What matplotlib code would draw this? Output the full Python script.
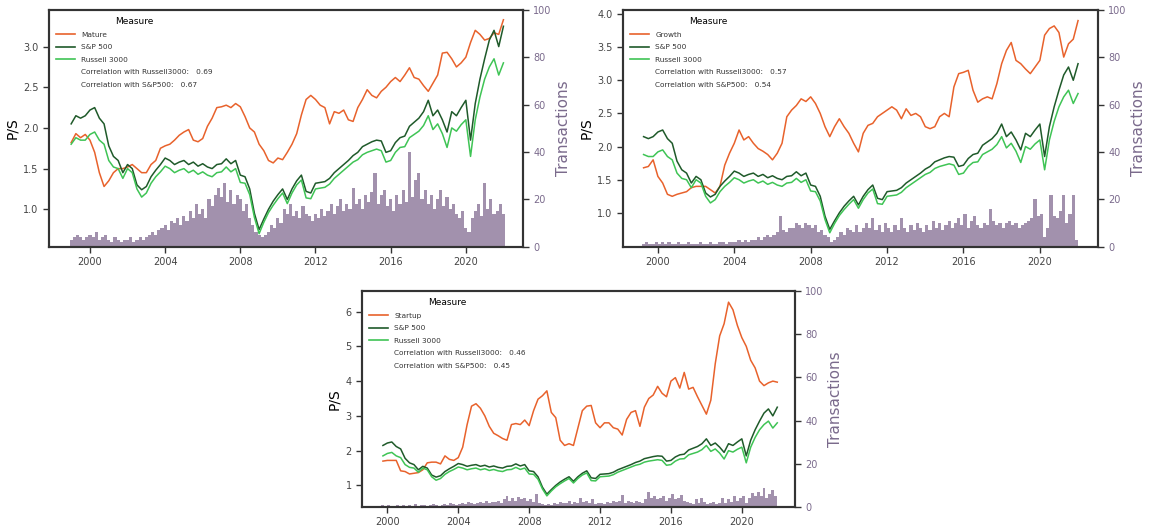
import numpy as np
import matplotlib
matplotlib.use('Agg')
import matplotlib.pyplot as plt
from matplotlib.lines import Line2D

# quarterly P/S, 1999.0 - 2022.0 (shared index series)
sp500 = [2.05, 2.15, 2.12, 2.15,
         2.22, 2.25, 2.12, 2.05,
         1.78, 1.65, 1.60, 1.45,
         1.55, 1.50, 1.30, 1.24,
         1.28, 1.40, 1.48, 1.55,
         1.63, 1.60, 1.55, 1.58,
         1.60, 1.55, 1.58, 1.53,
         1.56, 1.52, 1.50, 1.55,
         1.56, 1.62, 1.56, 1.60,
         1.42, 1.40, 1.25, 0.95,
         0.75, 0.88, 1.00, 1.10,
         1.18, 1.25, 1.12, 1.25,
         1.35, 1.42, 1.22, 1.20,
         1.32, 1.33, 1.34, 1.38,
         1.45, 1.50, 1.55, 1.60,
         1.66, 1.70, 1.77, 1.80,
         1.83, 1.85, 1.84, 1.70,
         1.72, 1.82, 1.88, 1.90,
         2.02, 2.07, 2.12, 2.20,
         2.34, 2.15, 2.22, 2.10,
         1.95, 2.20, 2.15, 2.25,
         2.34, 1.85, 2.30, 2.60,
         2.85, 3.08, 3.20, 3.00,
         3.25]
russell3000 = [1.80, 1.88, 1.85, 1.85,
               1.92, 1.95, 1.85, 1.80,
               1.60, 1.52, 1.50, 1.38,
               1.50, 1.45, 1.25, 1.15,
               1.20, 1.32, 1.40, 1.46,
               1.53, 1.50, 1.45, 1.48,
               1.50, 1.45, 1.48, 1.43,
               1.46, 1.42, 1.40, 1.45,
               1.46, 1.52, 1.46, 1.50,
               1.33, 1.32, 1.18, 0.90,
               0.70, 0.84, 0.96, 1.05,
               1.13, 1.20, 1.07, 1.20,
               1.30, 1.36, 1.14, 1.13,
               1.25, 1.26, 1.27, 1.31,
               1.38, 1.43, 1.48, 1.53,
               1.58, 1.61, 1.67, 1.70,
               1.72, 1.74, 1.72, 1.58,
               1.60, 1.70, 1.76, 1.77,
               1.88, 1.92, 1.96, 2.03,
               2.15, 1.98, 2.05, 1.93,
               1.76, 2.00, 1.96, 2.04,
               2.10, 1.65, 2.10, 2.38,
               2.60, 2.75, 2.85, 2.65,
               2.80]

# Mature, quarterly from 1999.0
mature = [1.82, 1.93, 1.88, 1.92,
          1.85, 1.70, 1.45, 1.28,
          1.35, 1.45, 1.50, 1.50,
          1.52, 1.55, 1.50, 1.45,
          1.45, 1.55, 1.60, 1.75,
          1.78, 1.80, 1.85, 1.91,
          1.95, 1.98, 1.85, 1.83,
          1.87, 2.02, 2.12, 2.25,
          2.26, 2.28, 2.25, 2.30,
          2.26, 2.14, 2.00, 1.95,
          1.80, 1.72, 1.60, 1.57,
          1.63, 1.61, 1.70, 1.80,
          1.93, 2.16, 2.35, 2.40,
          2.35, 2.28, 2.25, 2.05,
          2.20, 2.18, 2.22, 2.10,
          2.08, 2.25, 2.35, 2.47,
          2.40, 2.37, 2.45, 2.50,
          2.57, 2.62, 2.57, 2.65,
          2.74, 2.62, 2.60, 2.52,
          2.45, 2.55, 2.65, 2.92,
          2.93, 2.85, 2.75, 2.80,
          2.87, 3.05, 3.20, 3.15,
          3.08, 3.10, 3.17, 3.15,
          3.33]
# Growth, quarterly from 1999.25
growth = [1.68, 1.70, 1.80,
          1.55, 1.45, 1.28, 1.25,
          1.28, 1.30, 1.32, 1.38,
          1.40, 1.40, 1.40, 1.35,
          1.30, 1.40, 1.72, 1.90,
          2.05, 2.25, 2.10, 2.15,
          2.05, 1.97, 1.93, 1.88,
          1.80, 1.90, 2.05, 2.45,
          2.55, 2.62, 2.72, 2.68,
          2.75, 2.65, 2.50, 2.30,
          2.15, 2.30, 2.42, 2.30,
          2.20, 2.05, 1.92, 2.20,
          2.32, 2.35, 2.45, 2.50,
          2.55, 2.60, 2.55, 2.42,
          2.57, 2.47, 2.50, 2.45,
          2.30, 2.27, 2.30, 2.45,
          2.50, 2.45, 2.90, 3.10,
          3.12, 3.15, 2.85, 2.67,
          2.72, 2.75, 2.72, 2.95,
          3.25, 3.45, 3.57, 3.30,
          3.25, 3.17, 3.10, 3.20,
          3.30, 3.68, 3.78, 3.82,
          3.72, 3.35, 3.55, 3.62,
          3.90]
# Startup, quarterly from 1999.75
startup = [1.70,
           1.72, 1.72, 1.72, 1.42,
           1.40, 1.33, 1.35, 1.37,
           1.45, 1.65, 1.67, 1.67,
           1.62, 1.85, 1.75, 1.72,
           1.80, 2.10, 2.75, 3.28,
           3.35, 3.22, 3.00, 2.70,
           2.50, 2.43, 2.35, 2.30,
           2.75, 2.78, 2.75, 2.88,
           2.72, 3.15, 3.48, 3.58,
           3.72, 3.10, 2.95, 2.30,
           2.15, 2.20, 2.15, 2.65,
           3.15, 3.28, 3.30, 2.80,
           2.66, 2.80, 2.80, 2.66,
           2.62, 2.45, 2.90, 3.10,
           3.15, 2.70, 3.25, 3.50,
           3.60, 3.85, 3.65, 3.55,
           4.00, 4.10, 3.80, 4.25,
           3.77, 3.82, 3.55, 3.30,
           3.05, 3.45, 4.50, 5.30,
           5.65, 6.27, 6.05, 5.60,
           5.25, 5.00, 4.60, 4.38,
           4.00, 3.87, 3.95, 4.00,
           3.97]

# transactions, bimonthly
tx_mature = [3, 4, 5, 4, 3, 4,
             5, 4, 6, 3, 4, 5,
             3, 2, 4, 3, 2, 3,
             3, 4, 2, 3, 4, 3,
             4, 5, 6, 5, 7, 8,
             9, 7, 11, 10, 12, 9,
             13, 11, 15, 12, 18, 14,
             16, 12, 20, 17, 22, 25,
             21, 27, 19, 24, 18, 22,
             20, 15, 18, 12, 9, 6,
             5, 4, 5, 6, 9, 8,
             12, 10, 16, 14, 18, 13,
             15, 12, 17, 14, 13, 11,
             14, 12, 16, 13, 15, 18,
             14, 17, 20, 15, 18, 16,
             25, 18, 20, 16, 22, 19,
             23, 31, 18, 22, 24, 17,
             20, 15, 22, 18, 24, 19,
             40, 21, 28, 31, 20, 24,
             18, 22, 16, 20, 24, 17,
             21, 16, 18, 14, 12, 15,
             8, 6, 12, 15, 18, 13,
             27, 16, 20, 14, 15, 18,
             14]
tx_growth = [1, 2, 1, 1, 2,
             1, 2, 1, 2, 1, 1,
             2, 1, 1, 2, 1, 1,
             1, 2, 1, 1, 2, 1,
             1, 2, 2, 1, 2, 2,
             2, 3, 2, 3, 2, 3,
             3, 4, 3, 4, 5, 4,
             5, 6, 13, 7, 6, 8,
             8, 10, 9, 8, 10, 9,
             8, 9, 6, 7, 5, 4,
             2, 3, 4, 6, 5, 8,
             7, 6, 9, 6, 8, 10,
             8, 12, 7, 9, 6, 10,
             8, 6, 9, 7, 12, 8,
             6, 9, 7, 10, 8, 6,
             9, 7, 11, 8, 10, 7,
             9, 11, 8, 10, 12, 9,
             14, 8, 11, 13, 9, 8,
             10, 9, 16, 11, 9, 10,
             8, 10, 11, 9, 10, 8,
             9, 10, 11, 12, 20, 13,
             14, 4, 8, 22, 13, 12,
             15, 22, 10, 14, 22, 3]
tx_startup = [1, 0.5,
              1, 0.5, 0.5, 1, 0.5, 1,
              0.5, 1, 0.5, 1.5, 0.5, 1,
              1, 0.5, 1, 1.5, 1, 0.5,
              1, 1.5, 1, 2, 1.5, 1,
              1.5, 2, 1.5, 2.5, 2, 1.5,
              2, 2.5, 2, 3, 2, 2.5,
              2.5, 3, 2, 3.5, 5, 3,
              4, 3, 4.5, 3.5, 4, 3,
              3.5, 2.5, 6, 2, 1.5, 1,
              1.5, 1, 2, 1.5, 2.5, 2,
              2, 3, 1.5, 2.5, 2, 4,
              2.5, 3, 2, 3.5, 1.5, 2,
              2, 1.5, 2.5, 2, 3, 2.5,
              3, 5.5, 2, 3, 2.5, 2,
              3, 2.5, 2, 3.5, 7, 4,
              5, 3.5, 4, 5, 3, 4,
              6, 3.5, 4, 5.5, 3, 2.5,
              2, 1.5, 3.5, 2, 4, 2.5,
              1.5, 2, 2.5, 1.5, 2, 4,
              2, 3.5, 2.5, 5, 3, 4,
              5, 2, 4, 6.5, 5, 7,
              5, 9, 4, 6, 8, 5]

c_orange = '#e8622c'
c_dark = '#1f5a2a'
c_light = '#3fc455'
c_bar = '#a291ad'
c_purple = '#7a6a8c'
c_spine = '#333333'

fig = plt.figure(figsize=(11.5, 5.26), dpi=100)


def draw_panel(rect, name, vals, start, bars, corr_r, corr_s, xlim, ylim, yticks, ylabels):
    ax = fig.add_axes(rect)
    ax2 = ax.twinx()
    t = start + 0.25 * np.arange(len(vals))
    i0 = int(round((start - 1999.0) / 0.25))
    tb = start + np.arange(len(bars)) / 6.0
    ax2.bar(tb, bars, width=1 / 6.0, color=c_bar, linewidth=0)
    ax2.set_ylim(0, 100)
    ax2.set_yticks([0, 20, 40, 60, 80, 100])
    ax2.set_ylabel('Transactions', color=c_purple, fontsize=11, labelpad=3)
    ax2.tick_params(axis='y', colors=c_purple, labelsize=7, length=4, width=1)
    ax2.tick_params(axis='y', color=c_spine)

    ax.set_zorder(ax2.get_zorder() + 1)
    ax.patch.set_visible(False)
    ax.plot(t, vals, color=c_orange, lw=1.1)
    ax.plot(t, sp500[i0:i0 + len(vals)], color=c_dark, lw=1.1)
    ax.plot(t, russell3000[i0:i0 + len(vals)], color=c_light, lw=1.1)
    ax.set_xlim(*xlim)
    ax.set_ylim(*ylim)
    ax.set_yticks(yticks)
    ax.set_yticklabels(ylabels)
    ax.set_xticks([2000, 2004, 2008, 2012, 2016, 2020])
    ax.set_xticklabels(['2000', '2004', '2008', '2012', '2016', '2020'])
    ax.set_ylabel('P/S', fontsize=10, labelpad=3)
    ax.tick_params(labelsize=7, length=4, width=1, color=c_spine, labelcolor='#444444')
    for a in (ax, ax2):
        for s in a.spines.values():
            s.set_linewidth(1.5)
            s.set_color(c_spine)

    handles = [Line2D([], [], color=c_orange, lw=1.2),
               Line2D([], [], color=c_dark, lw=1.2),
               Line2D([], [], color=c_light, lw=1.2),
               Line2D([], [], color='none'),
               Line2D([], [], color='none')]
    labels = [name, 'S&P 500', 'Russell 3000',
              f'Correlation with Russell3000:   {corr_r}',
              f'Correlation with S&P500:   {corr_s}']
    leg = ax.legend(handles, labels, title='Measure', loc='upper left', frameon=False,
                    fontsize=5.3, title_fontsize=6.5, handlelength=2.6, labelspacing=0.85,
                    handletextpad=0.9, borderaxespad=0.5)
    for txt in leg.get_texts():
        txt.set_color('#333333')


draw_panel([0.0426, 0.531, 0.412, 0.45], 'Mature', mature, 1999.0, tx_mature,
           '0.69', '0.67', (1997.82, 2023.03), (0.54, 3.45),
           [1.0, 1.5, 2.0, 2.5, 3.0], ['1.0', '1.5', '2.0', '2.5', '3.0'])
draw_panel([0.5417, 0.531, 0.413, 0.45], 'Growth', growth, 1999.25, tx_growth,
           '0.57', '0.54', (1998.17, 2023.04), (0.49, 4.06),
           [1.0, 1.5, 2.0, 2.5, 3.0, 3.5, 4.0], ['1.0', '1.5', '2.0', '2.5', '3.0', '3.5', '4.0'])
draw_panel([0.3148, 0.0361, 0.3765, 0.4106], 'Startup', startup, 1999.75, tx_startup,
           '0.46', '0.45', (1998.57, 2023.0), (0.38, 6.59),
           [1, 2, 3, 4, 5, 6], ['1', '2', '3', '4', '5', '6'])

plt.savefig('out.png', dpi=100)
